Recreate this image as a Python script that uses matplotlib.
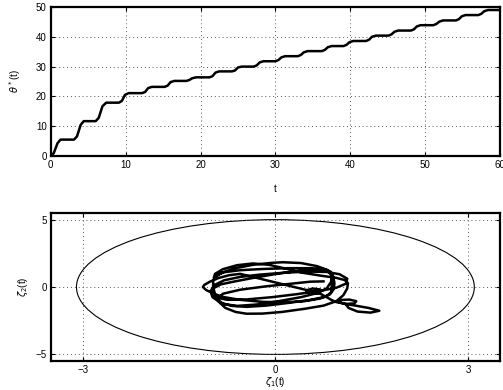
"""
Staircase angle trajectory and phase portrait inside the bounding ellipse
"""
import matplotlib
matplotlib.use("Agg")
import matplotlib.pyplot as plt
from matplotlib.patches import Ellipse

plt.rcParams['font.family'] = ['Liberation Sans', 'DejaVu Sans']
plt.rcParams['mathtext.fontset'] = 'dejavusans'

# theta*(t): corner points of the staircase (t, theta)
t_pts = [0, 0.4, 0.9, 1.3, 3.1, 3.5, 4.0, 4.4, 6.0, 6.4, 6.9, 7.4, 9.1, 9.5,
         9.9, 10.4, 12.2, 12.6, 13.0, 13.5, 15.2, 15.6, 16.0, 16.5, 18.1,
         18.5, 18.9, 19.4, 21.2, 21.6, 22.0, 22.5, 24.2, 24.6, 25.0, 25.5,
         27.1, 27.5, 27.9, 28.4, 30.0, 30.4, 30.8, 31.3, 33.0, 33.4, 33.8,
         34.3, 36.2, 36.6, 37.0, 37.5, 39.1, 39.5, 39.9, 40.4, 42.1, 42.5,
         42.9, 43.4, 45.1, 45.5, 45.9, 46.4, 48.1, 48.5, 48.9, 49.4, 51.1,
         51.5, 51.9, 52.4, 54.1, 54.5, 54.9, 55.4, 57.1, 57.5, 57.9, 58.4, 60]
theta_pts = [0, 1.0, 4.3, 5.5, 5.5, 6.6, 10.5, 11.7, 11.7, 12.8, 16.7, 17.9,
             17.9, 18.5, 20.5, 21.1, 21.1, 21.5, 22.8, 23.2, 23.2, 23.6, 24.8,
             25.2, 25.2, 25.5, 26.1, 26.4, 26.4, 26.8, 28.0, 28.4, 28.4, 28.7,
             29.7, 30.0, 30.0, 30.4, 31.4, 31.8, 31.8, 32.2, 33.1, 33.5, 33.5,
             33.9, 34.8, 35.2, 35.2, 35.6, 36.5, 36.9, 36.9, 37.3, 38.2, 38.6,
             38.6, 39.0, 40.0, 40.4, 40.4, 40.8, 41.7, 42.1, 42.1, 42.5, 43.5,
             43.9, 43.9, 44.3, 45.1, 45.5, 45.5, 45.9, 46.9, 47.3, 47.3, 47.7,
             48.6, 49.0, 49.0]

# zeta trajectory (zeta1, zeta2):
# small loops at lower right, the long diagonal, then the swirl
zeta1 = [1.10, 1.14, 1.28, 1.48, 1.62, 1.45, 1.25, 1.08, 0.98, 1.02, 1.15,
         1.26, 1.23, 1.10, 0.95, 0.87, 0.78, 0.70, 0.62, 0.50, 0.48, 0.58,
         0.70, 0.70, 0.56,
         -0.55, -0.72, -0.88, -1.02, -1.11, -1.13, -1.08, -0.96, -0.80, -0.55,
         -0.20, 0.15, 0.45, 0.70, 0.85, 0.91, 0.92, 0.90, 0.86, 0.75, 0.55,
         0.20, -0.20, -0.55, -0.80, -0.93,
         -0.97, -0.97, -0.94, -0.88, -0.78, -0.62, -0.45, -0.20, 0.10, 0.45,
         0.75, 0.95, 1.06, 1.12, 1.13, 1.08, 0.95, 0.70, 0.40, 0.15, -0.10,
         -0.35, -0.60, -0.82, -0.94,
         -0.96, -0.84, -0.64, -0.35, -0.05, 0.12, 0.40, 0.65, 0.82, 0.88,
         0.88, 0.87, 0.78, 0.55, 0.20, -0.15, -0.45, -0.68, -0.86, -0.98,
         -1.01, -0.95, -0.80, -0.55,
         -0.25, 0.10, 0.50, 0.80, 1.00, 1.12, 1.10, 0.95, 0.70, 0.35, -0.05,
         -0.45, -0.75, -0.92, -1.00, -0.97, -0.85, -0.65, -0.30, 0.05, 0.35,
         0.62, 0.80, 0.88, 0.87, 0.80, 0.65, 0.40, 0.05, -0.30, -0.60, -0.82,
         -0.90, -0.82, -0.55, -0.15, 0.25, 0.55, 0.75]
zeta2 = [-1.30, -1.55, -1.82, -1.90, -1.76, -1.55, -1.38, -1.25, -1.10, -0.96,
         -0.93, -1.05, -1.22, -1.25, -1.12, -0.95, -0.70, -0.50, -0.46, -0.42,
         -0.25, -0.11, -0.18, -0.35, -0.31,
         0.98, 0.88, 0.68, 0.40, 0.15, 0.00, -0.22, -0.50, -0.75, -0.95,
         -1.10, -1.13, -1.05, -0.85, -0.55, -0.15, 0.30, 0.80, 1.15, 1.33,
         1.40, 1.40, 1.34, 1.25, 1.10, 0.85,
         0.45, 0.00, -0.55, -1.10, -1.55, -1.85, -1.98, -1.97, -1.85, -1.62,
         -1.38, -1.05, -0.60, -0.10, 0.30, 0.52, 0.68, 0.85, 1.08, 1.38, 1.65,
         1.75, 1.62, 1.32, 0.98,
         0.68, 1.05, 1.38, 1.65, 1.80, 1.84, 1.78, 1.55, 1.25, 0.80, 0.20,
         -0.40, -0.72, -0.95, -1.18, -1.38, -1.47, -1.40, -1.15, -0.75, -0.30,
         0.15, 0.50, 0.75,
         0.92, 1.05, 1.15, 1.12, 0.95, 0.62, 0.25, -0.05, -0.28, -0.52, -0.75,
         -0.92, -0.95, -0.78, -0.45, -0.10, 0.20, 0.40, 0.72, 1.00, 1.20,
         1.32, 1.25, 0.95, 0.40, -0.10, -0.45, -0.75, -1.05, -1.30, -1.40,
         -1.25, -0.90, -0.50, -0.20, 0.05, 0.25, 0.40, 0.42]

# bounding ellipse semi-axes
ell_a = 3.1
ell_b = 5.0

fig = plt.figure(figsize=(5.03, 3.90), dpi=100)

# top panel
ax1 = fig.add_axes([0.101, 0.600, 0.893, 0.382])
ax1.plot(t_pts, theta_pts, color='black', lw=1.8, solid_joinstyle='round')
ax1.set_xlim(0, 60)
ax1.set_ylim(0, 50)
ax1.set_xticks(range(0, 61, 10))
ax1.set_yticks(range(0, 51, 10))
ax1.set_xlabel('t', fontsize=7, labelpad=10)
ax1.set_ylabel(r'$\theta^*$(t)', fontsize=7, labelpad=9)

# bottom panel
ax2 = fig.add_axes([0.101, 0.074, 0.893, 0.380])
ax2.add_patch(Ellipse((0, 0), 2 * ell_a, 2 * ell_b, fill=False,
                      edgecolor='black', lw=0.8))
ax2.plot(zeta1, zeta2, color='black', lw=1.8, solid_joinstyle='round')
ax2.set_xlim(-3.5, 3.5)
ax2.set_ylim(-5.5, 5.5)
ax2.set_xticks([-3, 0, 3])
ax2.set_yticks([-5, 0, 5])
ax2.set_xlabel(r'$\zeta_1$(t)', fontsize=7, labelpad=0)
ax2.set_ylabel(r'$\zeta_2$(t)', fontsize=7, labelpad=4)

for ax in (ax1, ax2):
    ax.grid(True, linestyle=(0, (1, 3)), color='#555555', lw=0.7)
    ax.tick_params(direction='in', length=3, width=0.8, labelsize=7,
                   top=True, right=True, pad=3)
    for s in ax.spines.values():
        s.set_linewidth(1.6)

fig.savefig('out.png', dpi=100)
